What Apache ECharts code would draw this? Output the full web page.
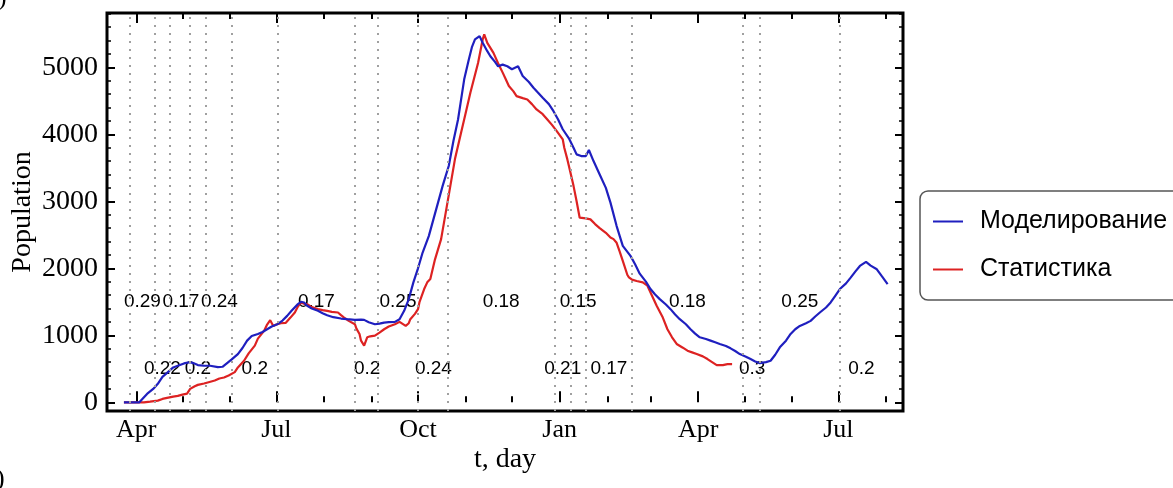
<!DOCTYPE html>
<html><head><meta charset="utf-8">
<script src="https://cdn.jsdelivr.net/npm/echarts@6/dist/echarts.min.js"></script>
<style>html,body{margin:0;padding:0;background:#fff}#c{width:1173px;height:488px}</style>
</head><body><div id="c"></div>
<script>
// ---------- data ----------
const startDate = '2020-03-13';
const endDate = '2021-08-12';
const monthNames = ['Jan','Feb','Mar','Apr','May','Jun','Jul','Aug','Sep','Oct','Nov','Dec'];
const quarterMonths = ['01','04','07','10'];
const yTickValues = [0,1000,2000,3000,4000,5000];

const modelData = [
['2020-03-24',0],['2020-04-03',0],['2020-04-08',125],['2020-04-12',200],['2020-04-15',275],['2020-04-18',380],['2020-04-21',440],['2020-04-25',520],['2020-04-28',545],['2020-05-02',580],['2020-05-06',600],['2020-05-08',585],['2020-05-11',555],['2020-05-15',545],['2020-05-19',545],['2020-05-24',525],['2020-05-27',530],['2020-05-30',585],['2020-06-02',640],['2020-06-06',720],['2020-06-09',810],['2020-06-12',920],['2020-06-15',990],['2020-06-19',1020],['2020-06-22',1050],['2020-06-25',1090],['2020-06-28',1130],['2020-07-02',1170],['2020-07-05',1220],['2020-07-08',1290],['2020-07-11',1370],['2020-07-15',1465],['2020-07-17',1500],['2020-07-19',1490],['2020-07-21',1440],['2020-07-24',1400],['2020-07-28',1365],['2020-07-31',1330],['2020-08-03',1300],['2020-08-07',1270],['2020-08-12',1250],['2020-08-16',1240],['2020-08-21',1230],['2020-08-25',1235],['2020-08-27',1230],['2020-08-30',1195],['2020-09-03',1165],['2020-09-06',1175],['2020-09-09',1190],['2020-09-12',1195],['2020-09-16',1200],['2020-09-19',1240],['2020-09-22',1365],['2020-09-25',1540],['2020-09-28',1790],['2020-10-01',2000],['2020-10-04',2235],['2020-10-08',2480],['2020-10-11',2730],['2020-10-14',2980],['2020-10-17',3230],['2020-10-21',3530],['2020-10-24',3900],['2020-10-27',4220],['2020-10-29',4520],['2020-10-31',4820],['2020-11-03',5115],['2020-11-05',5300],['2020-11-07',5415],['2020-11-10',5465],['2020-11-12',5365],['2020-11-15',5240],['2020-11-17',5165],['2020-11-20',5080],['2020-11-22',5015],['2020-11-25',5040],['2020-11-28',5015],['2020-12-01',4970],['2020-12-05',5015],['2020-12-08',4870],['2020-12-12',4780],['2020-12-15',4695],['2020-12-18',4620],['2020-12-21',4545],['2020-12-25',4450],['2020-12-28',4345],['2020-12-31',4220],['2021-01-03',4075],['2021-01-07',3940],['2021-01-10',3800],['2021-01-12',3700],['2021-01-15',3675],['2021-01-18',3675],['2021-01-20',3765],['2021-01-23',3600],['2021-01-27',3400],['2021-01-31',3200],['2021-02-03',2980],['2021-02-07',2630],['2021-02-11',2335],['2021-02-16',2185],['2021-02-19',2060],['2021-02-22',1920],['2021-02-26',1800],['2021-03-01',1690],['2021-03-04',1610],['2021-03-07',1540],['2021-03-11',1460],['2021-03-14',1390],['2021-03-17',1310],['2021-03-20',1240],['2021-03-24',1165],['2021-03-27',1090],['2021-03-30',1025],['2021-04-02',970],['2021-04-06',945],['2021-04-09',920],['2021-04-12',895],['2021-04-15',870],['2021-04-19',840],['2021-04-22',805],['2021-04-25',765],['2021-04-28',720],['2021-05-02',680],['2021-05-05',645],['2021-05-08',610],['2021-05-11',585],['2021-05-15',600],['2021-05-18',620],['2021-05-21',710],['2021-05-24',820],['2021-05-28',920],['2021-05-31',1020],['2021-06-03',1090],['2021-06-06',1140],['2021-06-10',1180],['2021-06-13',1215],['2021-06-16',1280],['2021-06-19',1340],['2021-06-23',1415],['2021-06-26',1490],['2021-06-29',1590],['2021-07-02',1690],['2021-07-06',1775],['2021-07-09',1860],['2021-07-12',1950],['2021-07-15',2035],['2021-07-19',2095],['2021-07-22',2040],['2021-07-26',1985],['2021-07-29',1890],['2021-08-02',1765]
];

const statData = [
['2020-03-24',0],['2020-04-06',0],['2020-04-10',10],['2020-04-15',25],['2020-04-18',50],['2020-04-21',65],['2020-04-25',85],['2020-04-28',95],['2020-05-01',115],['2020-05-04',130],['2020-05-06',200],['2020-05-09',240],['2020-05-11',260],['2020-05-15',280],['2020-05-18',300],['2020-05-22',325],['2020-05-25',355],['2020-05-28',370],['2020-05-31',400],['2020-06-04',450],['2020-06-06',520],['2020-06-10',620],['2020-06-13',730],['2020-06-17',845],['2020-06-19',950],['2020-06-23',1065],['2020-06-25',1160],['2020-06-27',1225],['2020-06-29',1140],['2020-07-01',1160],['2020-07-04',1180],['2020-07-07',1185],['2020-07-10',1260],['2020-07-13',1340],['2020-07-15',1430],['2020-07-17',1490],['2020-07-19',1470],['2020-07-21',1465],['2020-07-24',1420],['2020-07-28',1390],['2020-07-31',1375],['2020-08-03',1365],['2020-08-06',1350],['2020-08-10',1340],['2020-08-12',1300],['2020-08-14',1265],['2020-08-17',1215],['2020-08-21',1165],['2020-08-22',1100],['2020-08-24',1020],['2020-08-25',920],['2020-08-27',845],['2020-08-29',970],['2020-08-31',985],['2020-09-03',995],['2020-09-06',1040],['2020-09-09',1090],['2020-09-12',1130],['2020-09-16',1165],['2020-09-19',1200],['2020-09-21',1170],['2020-09-23',1140],['2020-09-25',1180],['2020-09-26',1240],['2020-09-29',1320],['2020-10-01',1390],['2020-10-02',1500],['2020-10-05',1690],['2020-10-07',1790],['2020-10-09',1840],['2020-10-12',2130],['2020-10-16',2435],['2020-10-19',2830],['2020-10-22',3230],['2020-10-25',3630],['2020-10-29',4025],['2020-11-01',4320],['2020-11-04',4620],['2020-11-09',5065],['2020-11-12',5415],['2020-11-13',5490],['2020-11-15',5365],['2020-11-17',5290],['2020-11-19',5215],['2020-11-22',5060],['2020-11-25',4920],['2020-11-27',4820],['2020-11-29',4720],['2020-12-02',4640],['2020-12-04',4570],['2020-12-08',4540],['2020-12-11',4520],['2020-12-14',4450],['2020-12-17',4370],['2020-12-21',4300],['2020-12-24',4220],['2020-12-27',4140],['2020-12-30',4050],['2021-01-03',3925],['2021-01-04',3800],['2021-01-06',3625],['2021-01-08',3430],['2021-01-10',3230],['2021-01-12',3000],['2021-01-14',2755],['2021-01-18',2745],['2021-01-21',2730],['2021-01-24',2660],['2021-01-27',2600],['2021-01-31',2530],['2021-02-03',2460],['2021-02-05',2435],['2021-02-07',2380],['2021-02-09',2250],['2021-02-11',2110],['2021-02-14',1900],['2021-02-15',1865],['2021-02-17',1830],['2021-02-20',1810],['2021-02-24',1790],['2021-02-27',1740],['2021-03-02',1590],['2021-03-05',1440],['2021-03-09',1265],['2021-03-12',1090],['2021-03-15',970],['2021-03-18',870],['2021-03-22',815],['2021-03-25',770],['2021-03-28',745],['2021-03-31',720],['2021-04-04',685],['2021-04-07',645],['2021-04-10',600],['2021-04-13',555],['2021-04-15',555],['2021-04-17',555],['2021-04-20',570],['2021-04-23',570]
];

// regime change dates (dotted lines) and the rate of each period
const regimeDates = ['2020-03-28','2020-04-13','2020-04-23','2020-05-06','2020-05-16','2020-06-02','2020-07-02','2020-08-21','2020-09-05','2020-10-01','2020-10-20','2020-12-29','2021-01-08','2021-01-18','2021-02-17','2021-04-30','2021-05-11','2021-07-02'];
const regimeEnd = '2021-07-30';
const rates = [0.29,0.22,0.17,0.2,0.24,0.2,0.17,0.2,0.25,0.24,0.18,0.21,0.15,0.17,0.18,0.3,0.25,0.2];

// ---------- build ----------
const categories = [];
(function(){
  let t = Date.parse(startDate + 'T00:00:00Z');
  const e = Date.parse(endDate + 'T00:00:00Z');
  while (t <= e) { categories.push(new Date(t).toISOString().slice(0,10)); t += 86400000; }
})();
const catIndex = {};
categories.forEach((c,i)=>{catIndex[c]=i;});

const ROW_HIGH = 1500, ROW_LOW = 500;
const rateLabels = rates.map((r,i)=>{
  const a = catIndex[regimeDates[i]];
  const b = catIndex[i+1 < regimeDates.length ? regimeDates[i+1] : regimeEnd];
  return [categories[Math.round((a+b)/2)], i % 2 === 0 ? ROW_HIGH : ROW_LOW, r];
});

const isMonthStart = (i, v) => v.slice(8) === '01';
const isQuarterStart = (i, v) => v.slice(8) === '01' && quarterMonths.indexOf(v.slice(5,7)) >= 0;
const serif = 'Liberation Serif';
const sans = 'Liberation Sans';

function xAx(pos, tickFn, len, withLabel){
  return {
    type:'category', data: categories, boundaryGap:false, position: pos,
    axisLine:{show:false},
    axisTick:{show:true, inside:true, length:len, interval: tickFn, lineStyle:{color:'#000', width:2}},
    axisLabel: withLabel ? {show:true, interval: isQuarterStart, margin:6,
      formatter: v => monthNames[parseInt(v.slice(5,7),10)-1],
      fontFamily: serif, fontSize:26, color:'#000'} : {show:false},
    splitLine:{show:false}
  };
}

const xAxes = [
  xAx('bottom', isMonthStart, 6, false),
  Object.assign(xAx('bottom', isQuarterStart, 11, true), {
    name:'t, day', nameLocation:'middle', nameGap:35, nameMoveOverlap:false,
    nameTextStyle:{fontFamily:serif, fontSize:28, color:'#000'}
  }),
  xAx('top', isMonthStart, 6, false),
  xAx('top', isQuarterStart, 10, false)
];

function yAx(pos, withLabel){
  return {
    type:'value', min:-130, max:5810, splitNumber:6, position: pos,
    axisLine:{show:false},
    axisTick:{show:true, inside:true, length:8, lineStyle:{color:'#000', width:2}},
    minorTick:{show:true, splitNumber:5, length:4, lineStyle:{color:'#000', width:1.5}},
    splitLine:{show:false}, minorSplitLine:{show:false},
    axisLabel: withLabel ? {show:true, margin:9, showMinLabel:false, showMaxLabel:false,
      formatter: v => yTickValues.indexOf(v) >= 0 ? String(v) : '',
      fontFamily:serif, fontSize:28, color:'#000'} : {show:false}
  };
}

const chart = echarts.init(document.getElementById('c'), null, {renderer:'canvas'});
chart.setOption({
  animation:false,
  backgroundColor:'#fff',
  grid:{left:107, right:270, top:13, bottom:77, containLabel:false, outerBoundsMode:'none',
    show:true, borderColor:'#000', borderWidth:3, backgroundColor:'transparent'},
  xAxis: xAxes,
  yAxis: [
    Object.assign(yAx('left', true), {name:'Population', nameLocation:'middle', nameGap:70,
      nameMoveOverlap:false,
      nameTextStyle:{fontFamily:serif, fontSize:28, color:'#000'}}),
    yAx('right', false)
  ],
  legend:{
    orient:'vertical', left:920, top:191, icon:'rect', itemWidth:30, itemHeight:2, itemGap:23,
    padding:[18, 40, 18, 13], borderColor:'#555', borderWidth:1.5, borderRadius:8,
    textStyle:{fontFamily:sans, fontSize:25, color:'#000', padding:[0,0,0,12]},
    data:['Моделирование','Статистика']
  },
  graphic:[
    {type:'text', left:-2, top:-15, style:{text:')', font:'26px "Liberation Serif"', fill:'#000'}},
    {type:'text', left:-4, top:466, style:{text:')', font:'26px "Liberation Serif"', fill:'#000'}}
  ],
  series:[
    {
      name:'rates', type:'scatter', z:1, data: rateLabels, symbol:'circle', symbolSize:1,
      itemStyle:{color:'rgba(0,0,0,0)'}, silent:true,
      label:{show:true, position:'inside', formatter: p => String(p.value[2]),
        fontFamily:sans, fontSize:19, color:'#000', opacity:1, textBorderWidth:0},
      markLine:{silent:true, symbol:['none','none'], label:{show:false},
        lineStyle:{type:[2,6], color:'#a0a0a0', width:2},
        data: regimeDates.map(d => ({xAxis:d}))}
    },
    {name:'Моделирование', type:'line', z:3, data: modelData, showSymbol:false, symbol:'none',
      color:'#1f1fbf', lineStyle:{color:'#1f1fbf', width:2.2}},
    {name:'Статистика', type:'line', z:2, data: statData, showSymbol:false, symbol:'none',
      color:'#dd2222', lineStyle:{color:'#dd2222', width:2.2}}
  ]
});
</script></body></html>
